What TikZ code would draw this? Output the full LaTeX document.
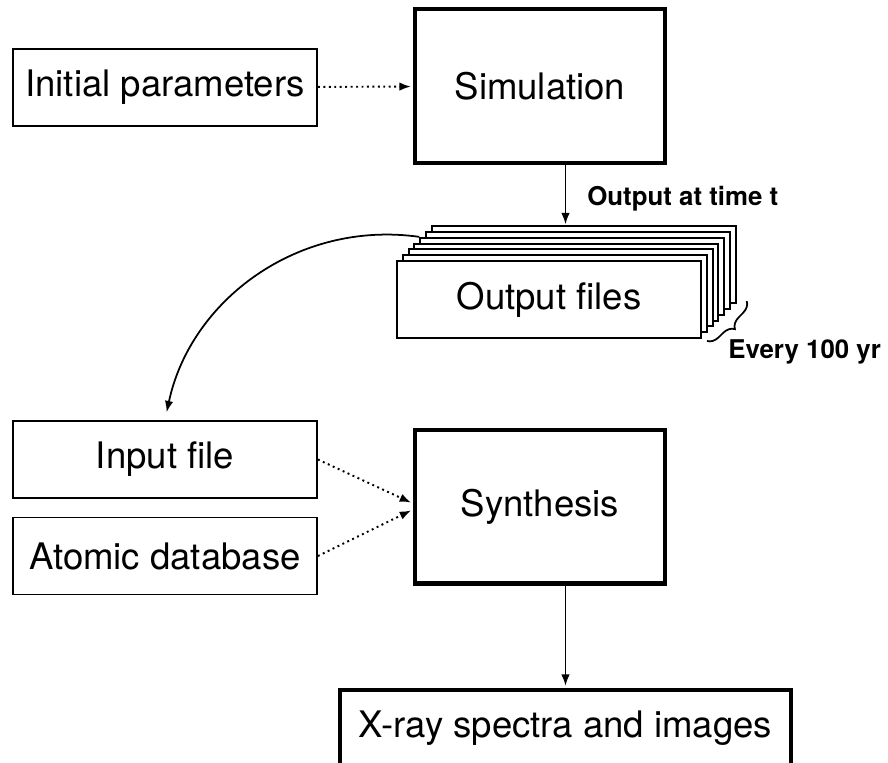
\documentclass[tikz,border=0pt]{standalone}
\usepackage{fontspec}
\setmainfont{TeX Gyre Heros}
\usetikzlibrary{calc}
\usetikzlibrary{decorations.pathreplacing}
\usetikzlibrary{arrows.meta, positioning}

\begin{document}
\begin{tikzpicture}[x=0.02cm, y=-0.02cm]
 \tikzstyle{thinbox}=[rectangle, draw, line width=1.1pt, fill=white, inner sep=0pt, minimum width=6.08cm, minimum height=1.54cm, font=\fontsize{20.8}{24}\selectfont]
 \tikzstyle{thickbox}=[rectangle, draw, line width=2.3pt, fill=white, inner sep=0pt, minimum width=5cm, minimum height=3.08cm, font=\fontsize{20.8}{24}\selectfont]
 \tikzstyle{tag}=[inner sep=0pt, font=\bfseries\fontsize{14.7}{17}\selectfont]
 \tikzstyle{line} = [draw, line width=1pt, -{Latex[length=6.5pt, width=4.8pt]}, shorten >=1.2pt]
 \tikzstyle{dotline} = [draw, line width=1.1pt, dotted, -{Latex[length=6.5pt, width=4.8pt]}, shorten >=1.2pt]

 \useasboundingbox (0,0) rectangle (888,762);

 % upper part: the run
 \draw (165, 87.5) node[thinbox] (init) {Initial parameters};
 \draw (540, 86) node[thickbox] (sim) {Simulation};
 \foreach \k in {6,...,1}
   \draw ({549+5.8*\k}, {299.5-5.8*\k}) node[thinbox] (out\k) {};
 \draw (549, 299.5) node[thinbox] (out0) {Output files};

 % lower part: synthesis
 \draw (165, 459.5) node[thinbox] (input) {Input file};
 \draw (165, 556) node[thinbox] (atomic) {Atomic database};
 \draw (540, 506.5) node[thickbox] (synth) {Synthesis};
 \draw (565.5, 728) node[thickbox, minimum width=9.02cm, minimum height=1.52cm] (xray) {X-ray spectra and images};

 \draw (587, 205) node[tag, anchor=base west] (tlabel) {Output at time t};
 \draw (728, 358) node[tag, anchor=base west] (elabel) {Every 100 yr};

 \path [dotline] (init) -- (sim);
 \path [line, shorten >=0.5pt] (sim.south -| xray) -- (out6.north -| xray);
 \path [line, shorten >=4.5pt] (out4.north west) to[out=172, in=78] (input.north);
 \path [dotline] (input.east) -- ($(synth.west)+(0,-3)$);
 \path [dotline] (atomic.east) -- ($(synth.west)+(0,3)$);
 \path [line] (synth.south -| xray) -- (xray.north);

 \coordinate (btop) at ($(out6.south east)+(10,-3)$);
 \coordinate (bbot) at ($(out0.south east)+(5,2)$);
 \draw[decorate, decoration={brace, amplitude=6.5pt}, line width=1pt] (btop) -- (bbot);

\end{tikzpicture}
\end{document}
